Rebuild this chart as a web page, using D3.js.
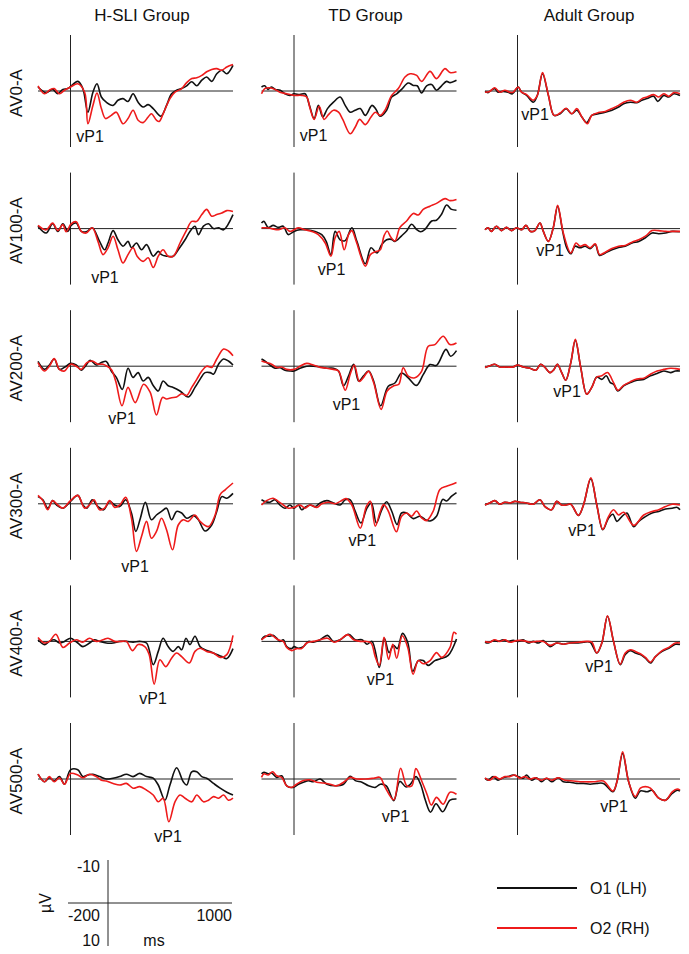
<!DOCTYPE html>
<html>
<head>
<meta charset="utf-8">
<script src="https://cdn.jsdelivr.net/npm/d3@7.9.0/dist/d3.min.js"></script>
<style>
  body { margin: 0; background: #fff; }
  svg { display: block; }
  text { font-family: "Liberation Sans", Arial, sans-serif; fill: #111; }
</style>
</head>
<body>
<svg id="chart" width="689" height="954"></svg>
<script>
const groups = ['H-SLI Group', 'TD Group', 'Adult Group'];
const conditions = ['AV0-A', 'AV100-A', 'AV200-A', 'AV300-A', 'AV400-A', 'AV500-A'];
const channels = ['O1 (LH)', 'O2 (RH)'];
const channelColors = ['#111111', '#ee1b1b'];

// waveforms: [ms, µV] (negative up)
const hsli_av0_o1 = [[-200,-1],[-150,0.4],[-110,-0.4],[-78,0.7],[-47,-0.4],[-16,-0.6],[45,-2.4],[76,-0.6],[107,5.3],[138,0.3],[163,-1.8],[190,1.5],[220,2.8],[262,3.6],[292,2.3],[323,1.9],[354,2.6],[385,0.7],[416,2.8],[447,4],[478,3.4],[509,4.4],[556,6.3],[591,3.6],[622,0.7],[653,-0.2],[684,-0.6],[715,-1.3],[746,-2.3],[777,-1.3],[808,-2.7],[838,-3.5],[869,-2.4],[900,-4.3],[931,-5.2],[962,-4.3],[1000,-6.4]];
const hsli_av0_o2 = [[-200,-1.3],[-160,0.7],[-130,-0.2],[-100,-0.6],[-68,0.7],[-37,-0.2],[0,-1],[45,-1.8],[87,0.3],[107,8.2],[138,3.6],[163,0.5],[190,4.4],[216,6.9],[251,6.1],[282,5.3],[323,8.2],[354,6.9],[385,4.8],[416,7.3],[447,7.9],[478,6.5],[498,5.7],[529,7.3],[546,7.6],[570,5.7],[612,1.9],[643,0.3],[684,-0.6],[715,-2.1],[746,-3.1],[777,-3.3],[808,-3.9],[838,-4.8],[869,-5.4],[900,-5.6],[931,-5.2],[962,-6],[1000,-6.6]];
const hsli_av100_o1 = [[-200,-0.6],[-150,1.1],[-110,-1.2],[-78,0.7],[-47,-1.2],[-16,0.7],[4,-0.8],[35,-1.4],[66,0.7],[101,0.7],[134,-0.2],[179,3.2],[210,5.3],[231,3.6],[262,0.5],[292,2.8],[323,4.4],[354,3.2],[375,4.8],[406,3.6],[437,5.3],[468,4],[509,6.9],[540,5.7],[560,6.5],[591,6.9],[632,6.9],[663,5.3],[705,2.8],[735,0.7],[766,-0.6],[787,1.5],[818,-0.6],[849,-1.2],[880,0],[911,-0.2],[942,0.3],[1000,-3.5]];
const hsli_av100_o2 = [[-200,-0.8],[-150,0.3],[-110,-1.4],[-78,0.5],[-47,-1],[-27,0.8],[4,-1.2],[35,-1.7],[66,0.7],[97,1.1],[134,-0.2],[169,3.2],[200,6.5],[231,4.8],[262,1.9],[292,5.3],[323,8.6],[354,6.5],[385,4.8],[410,6.9],[447,8.2],[478,7.3],[509,9.7],[540,6.9],[570,5.3],[601,6.9],[632,6.9],[674,3.6],[715,0.3],[746,-1.8],[777,-1.8],[808,-3.5],[838,-4.8],[869,-3.1],[900,-3.5],[931,-3.9],[962,-4.5],[1000,-4.3]];
const hsli_av200_o1 = [[-200,-1.2],[-160,0.8],[-130,-0.3],[-100,-1.8],[-68,0.8],[-27,0],[0,-0.7],[35,-0.3],[66,1],[97,-0.3],[121,-1.5],[159,-0.3],[190,-0.9],[220,-1.2],[251,1.2],[282,2.8],[319,5.8],[354,0.5],[385,2.8],[416,1.6],[447,3.7],[478,2.8],[509,4.8],[540,6.2],[570,3.7],[601,4.9],[632,5.3],[674,6.2],[725,7.7],[766,5.3],[797,3.3],[828,1.6],[859,1.6],[880,2],[911,-0.5],[942,-1.8],[972,-1.3],[1000,-0.3]];
const hsli_av200_o2 = [[-200,-0.9],[-160,1.2],[-130,0],[-100,-1.9],[-68,0.8],[-37,1.2],[0,-0.5],[35,0],[66,0.8],[101,-0.9],[134,-1.3],[169,-0.5],[200,-0.5],[225,0],[251,0.8],[278,3.7],[317,9.9],[354,5.3],[398,9.1],[450,4.5],[490,6.5],[529,12.2],[566,7.8],[591,8.2],[622,7.9],[653,7.7],[684,6.9],[715,7.3],[746,5.3],[777,3.3],[808,1.2],[838,0],[869,0.3],[900,-1.8],[942,-4.3],[972,-3.8],[1000,-2.6]];
const hsli_av300_o1 = [[-200,-1.8],[-170,-1],[-140,1.1],[-110,-0.8],[-85,0.3],[-47,1.1],[0,-0.6],[45,-2.1],[76,0.3],[101,1.1],[134,-1],[169,0.7],[204,1.5],[241,-0.6],[272,0.3],[303,0.7],[340,-1],[375,2.3],[402,6.9],[430,3.6],[461,-0.4],[498,4],[529,2.8],[560,1.9],[591,1.1],[622,4],[653,1.9],[684,2.3],[715,3.6],[756,2.9],[787,4],[828,6.8],[869,5.3],[900,1.9],[931,-1.8],[962,-1.4],[1000,-2.6]];
const hsli_av300_o2 = [[-200,-2.1],[-170,-0.8],[-140,1.5],[-110,-0.8],[-78,0.3],[-47,1.1],[0,-0.8],[45,-2.1],[87,1.1],[117,0.3],[144,-1],[179,1.5],[210,1.1],[241,-0.8],[272,0.9],[303,0.3],[340,-1.6],[375,3.6],[406,11.9],[437,8.2],[468,4.4],[498,8.6],[529,6.9],[560,3.6],[591,6.5],[628,11.5],[663,5.3],[694,4],[725,4.4],[766,2.8],[797,4.4],[849,5.7],[890,2.8],[921,-2.3],[952,-3.5],[1000,-5.2]];
const hsli_av400_o1 = [[-200,-0.4],[-160,0.8],[-130,0],[-100,-0.4],[-68,0.4],[-37,0],[0,-0.8],[45,0.4],[76,1.3],[117,0.4],[148,-0.4],[179,0],[220,0.4],[262,0.4],[303,0],[344,0],[385,0.2],[426,0],[468,0.4],[509,5.8],[540,2.5],[570,-0.8],[601,1.3],[632,2.5],[663,1.3],[684,2.1],[711,-0.8],[735,0.8],[766,-1.3],[797,1.3],[828,2.1],[859,2.5],[900,3.3],[931,3.8],[962,4.3],[1000,1.8]];
const hsli_av400_o2 = [[-200,-1],[-160,0.4],[-130,0],[-90,-1.8],[-47,1.5],[-6,0.4],[35,-0.4],[76,0.2],[117,-0.8],[159,0],[200,-0.4],[231,-0.8],[272,0],[313,0],[344,0],[381,2.3],[416,0.8],[457,1.3],[484,3.3],[515,10.7],[550,4.6],[587,6.3],[622,4.2],[653,2.9],[684,3.8],[731,5.4],[766,2.5],[797,1.7],[838,2.5],[880,2.9],[921,4],[962,3.3],[1000,-1.5]];
const hsli_av500_o1 = [[-200,-1.2],[-160,0.7],[-130,-0.3],[-100,0.5],[-68,-0.6],[-37,1.3],[0,-2.3],[45,-2.3],[76,-0.6],[107,-1],[138,-1.2],[179,-0.6],[220,0],[262,-0.2],[303,-0.6],[344,-1.2],[385,-0.6],[426,-1.4],[468,-0.6],[509,-0.2],[540,1.5],[581,5.3],[612,1.5],[653,-2.8],[694,0.7],[715,1.5],[746,-1.8],[777,-1.8],[808,-0.6],[838,-0.2],[880,1.1],[921,2.3],[962,3.3],[1000,4]];
const hsli_av500_o2 = [[-200,-1.2],[-160,0.7],[-130,-0.6],[-100,0.7],[-68,-0.3],[-37,1.3],[0,-1.4],[45,-1],[76,-0.3],[117,-1.2],[159,-0.6],[190,0.3],[220,0.5],[262,1.1],[303,1.5],[344,1.1],[385,2.3],[426,1.9],[468,2.8],[509,4],[540,5.7],[570,4.8],[605,10.7],[643,5.7],[674,4],[705,4.8],[746,5.7],[777,4],[818,5.7],[849,5.3],[880,4.4],[911,4.8],[942,4],[972,5.3],[1000,4.8]];

const td_av0_o1 = [[-200,-1],[-180,-1.3],[-160,-0.4],[-140,-1],[-115,-0.4],[-85,-0.2],[-55,0.7],[-25,1.1],[0,0.7],[35,0.9],[68,0.7],[95,3.6],[124,6.9],[150,3.6],[177,6.5],[206,4.4],[243,2.8],[284,1.5],[315,3.6],[346,5.3],[377,4.8],[408,4.4],[439,6.1],[480,3.6],[505,4.6],[529,6.3],[570,4.8],[601,1.5],[632,0.7],[662,-0.4],[703,-2],[734,-1.4],[758,-1.3],[785,0.5],[816,-1.3],[847,-1.6],[877,-0.2],[908,-1.3],[939,-2.4],[960,-2.1],[1000,-2.7]];
const td_av0_o2 = [[-200,0.7],[-180,-0.6],[-148,-0.8],[-117,-0.4],[-87,0.3],[-45,0.7],[0,1.1],[47,1.1],[78,1.5],[99,4.4],[124,7.1],[155,3.8],[185,7.1],[212,5.9],[243,4.8],[274,5.3],[300,7.1],[346,10.7],[377,9],[404,7.1],[439,8.4],[474,6.5],[500,5.3],[531,6.1],[560,4.8],[601,1.1],[642,-0.6],[683,-3.5],[714,-4.3],[755,-3.9],[785,-2.4],[837,-4.9],[877,-3.1],[929,-5.6],[960,-4.6],[1000,-4.8]];
const td_av100_o1 = [[-200,-1.4],[-185,-1.8],[-159,-0.3],[-128,-0.8],[-97,-0.3],[-66,-0.6],[-35,1.5],[0,0.7],[37,0.3],[78,0.3],[130,0.7],[171,1.5],[198,3.2],[227,6.5],[253,0.7],[284,2.8],[315,3],[356,-0.2],[387,3.2],[439,8.8],[474,4.8],[511,6.1],[540,4],[570,2.8],[600,2.7],[621,3.2],[662,1.8],[693,0.6],[724,-1.1],[754,0.2],[779,0.8],[806,0.2],[847,-1.9],[877,-2.1],[908,-3.6],[939,-5.9],[970,-4.8],[1000,-4.6]];
const td_av100_o2 = [[-200,-0.2],[-169,-0.2],[-138,0],[-97,0.3],[-56,-0.2],[-25,0.7],[0,0.3],[27,-0.2],[68,0.3],[109,0.7],[150,1.5],[192,3.6],[227,6.9],[253,2.3],[278,0.7],[309,5.3],[336,1.5],[356,0.5],[383,3.2],[439,9.4],[470,6.5],[500,5.8],[531,5.3],[554,1.8],[574,0.6],[595,2.1],[621,3.1],[652,-0.3],[693,-1.9],[734,-3.8],[765,-3.4],[795,-4.8],[837,-5.6],[877,-6.3],[929,-7.5],[960,-7],[1000,-7.3]];
const td_av200_o1 = [[-200,-1.8],[-180,-1.3],[-148,-0.3],[-117,0.5],[-87,0.4],[-56,1],[-25,1.2],[0,1.2],[37,0.5],[78,0],[119,0],[161,0.2],[202,0.5],[243,0.5],[274,1.2],[305,4.9],[336,2.4],[367,-0.5],[398,3.7],[428,2.4],[459,1.2],[490,3.7],[533,9.9],[580,5],[621,4.2],[662,1.7],[703,2.9],[754,4.8],[795,2.1],[837,-0.4],[877,-0.2],[935,-4.2],[964,-2.5],[1000,-3.9]];
const td_av200_o2 = [[-200,-1.3],[-169,-0.9],[-138,-0.5],[-107,0.3],[-76,0.2],[-45,0.8],[0,0.8],[37,0],[78,-0.7],[119,-0.3],[161,0.3],[202,0.5],[243,0.8],[274,1.2],[315,6],[346,2],[371,-0.3],[402,3.8],[424,3],[459,1.3],[490,4.1],[536,10.8],[573,6.2],[614,4.9],[645,4.5],[672,0.4],[703,2.5],[744,2.9],[785,1.3],[826,-5],[867,-5.4],[918,-7.5],[960,-5.4],[1000,-5.8]];
const td_av300_o1 = [[-200,-1],[-180,-0.6],[-148,-0.4],[-117,-1],[-87,0.3],[-56,1.1],[-25,0.3],[0,1.1],[27,0.3],[47,1.5],[74,0.7],[99,0.3],[130,0.7],[161,-0.2],[202,-0.8],[243,-0.2],[284,0.3],[315,-1],[346,-1],[377,1.9],[412,4.8],[449,1.1],[476,-0.2],[507,4.8],[540,1.5],[570,-0.5],[601,1.8],[634,5.2],[662,2.3],[693,2.3],[734,3.7],[775,3.1],[806,3.9],[837,4.3],[877,3.1],[915,-1.1],[939,-0.7],[970,-1.9],[1000,-2.8]];
const td_av300_o2 = [[-200,0.3],[-169,-0.8],[-128,-1.4],[-97,-0.6],[-66,0.3],[-35,1.1],[0,0.9],[37,0.3],[68,1.1],[99,0.3],[140,0.9],[171,0],[212,-0.4],[253,0],[284,-0.6],[321,-1.3],[356,0.3],[408,6.1],[445,0.7],[470,-0.6],[500,5.6],[531,1.9],[552,0.2],[580,1.8],[630,7],[662,3.1],[693,2.3],[724,3.1],[754,1.8],[785,3.5],[816,4.2],[857,1.8],[898,-3.6],[939,-4.4],[970,-4.8],[1000,-5.3]];
const td_av400_o1 = [[-200,-0.4],[-180,-1.3],[-148,-1.3],[-128,-1.5],[-107,-0.8],[-87,0],[-66,-0.4],[-45,1.3],[-14,1.8],[0,1.3],[27,1.7],[58,1.3],[89,0],[119,0.2],[161,-0.4],[206,-1.5],[243,0],[284,-0.4],[336,-1.8],[377,-0.4],[418,-0.4],[449,0.7],[480,0],[525,6.5],[556,-0.8],[585,2.8],[612,1],[636,1.8],[668,-2],[700,0.3],[731,7.5],[765,4.8],[795,4.8],[826,6],[867,4.8],[898,4.4],[949,3.5],[1000,-0.6]];
const td_av400_o2 = [[-200,-0.4],[-180,-1],[-148,-1.8],[-128,-1.3],[-97,-0.4],[-66,0],[-45,1.5],[-14,2.3],[16,1.8],[47,1.8],[78,0.4],[119,0],[161,-0.4],[206,-0.8],[247,0.2],[284,-0.4],[330,-1.7],[367,-0.4],[408,0],[439,0],[474,0.4],[500,3.8],[525,6],[554,-1],[582,4.5],[608,0.7],[632,4.2],[666,-1.4],[700,1.5],[733,8.2],[765,4.8],[795,5.6],[837,4.8],[877,2.8],[908,4],[960,1.5],[984,-2.3],[1000,-1.8]];
const td_av500_o1 = [[-200,-1.3],[-185,-1.7],[-159,-1.3],[-138,-1.5],[-107,-0.4],[-76,-0.8],[-45,1.7],[-4,2.1],[27,1.3],[58,0.8],[89,0.4],[119,0.7],[161,0],[202,1.3],[253,1.7],[305,1.3],[346,-0.7],[377,0.4],[418,0.8],[459,1.7],[500,2.1],[531,1.3],[568,1.7],[614,5.4],[651,0.6],[690,2],[717,1.3],[751,-0.6],[779,1.3],[809,5.4],[840,8.3],[874,6.2],[915,8.2],[960,5.3],[1000,5]];
const td_av500_o2 = [[-200,-0.4],[-185,-1.3],[-159,-1],[-132,-1.8],[-107,-0.8],[-76,-0.4],[-45,1.7],[-14,2.1],[16,1.3],[58,0.4],[99,0.2],[140,0.8],[181,1],[222,1.3],[264,1.7],[305,0.8],[346,-0.4],[387,0],[439,0],[490,-0.2],[529,-0.4],[560,2],[614,5.2],[656,-2.7],[694,1.7],[725,1.7],[750,-2.6],[789,0.8],[820,4],[845,6.5],[877,4.6],[918,6.3],[960,3.3],[1000,3.8]];

const adult_av0_o1 = [[-200,0.1],[-181,0.4],[-161,-0.2],[-140,-0.6],[-120,0.3],[-89,0.1],[-58,0.3],[-31,0.7],[4,-1],[25,0.3],[56,1.1],[97,2.8],[122,1.1],[154,-4.3],[190,1.1],[225,6.1],[262,5.7],[299,4.4],[334,5.7],[365,4.8],[396,6.5],[426,7.9],[457,6.1],[498,5.7],[540,5.3],[581,4.8],[622,4],[653,3.2],[694,2.8],[735,2.9],[766,2.3],[797,1.9],[838,1.3],[863,2.6],[900,1.1],[931,1.5],[962,0.7],[1000,1.1]];
const adult_av0_o2 = [[-200,0.3],[-171,0.1],[-140,-0.8],[-109,0.3],[-78,-0.2],[-47,0.3],[-27,0.3],[4,-1],[25,0.3],[56,0.9],[97,2.3],[122,1.1],[154,-4.6],[190,1],[225,6.1],[262,5.5],[299,4.3],[334,5.7],[365,4.4],[396,6.5],[430,8.2],[457,6.1],[498,5.4],[540,5.1],[581,4.4],[622,3.6],[653,2.8],[694,2.3],[735,2.8],[766,1.9],[797,1.5],[838,0.9],[869,1.5],[900,0.7],[931,1.3],[962,0.4],[1000,0.7]];
const adult_av100_o1 = [[-200,0.3],[-181,-0.2],[-161,0.7],[-130,-0.6],[-99,0.5],[-68,-0.3],[-37,0.5],[-6,-0.2],[25,0.3],[52,-0.8],[80,0.7],[107,0.5],[138,-1.4],[159,0.7],[190,3.2],[220,-0.2],[247,-5.6],[278,0.7],[303,4.8],[328,6.3],[354,4.4],[385,4.8],[416,4.4],[447,5],[478,4],[505,6.7],[540,6.1],[581,5.3],[622,4.7],[663,4.4],[705,3.6],[746,3.2],[787,2.3],[828,1.1],[869,1.3],[911,1.1],[952,0.7],[1000,0.8]];
const adult_av100_o2 = [[-200,0.3],[-181,-0.2],[-161,0.7],[-130,-0.6],[-99,0.5],[-68,-0.3],[-37,0.5],[-6,-0.2],[25,0.3],[52,-0.8],[80,0.7],[107,0.5],[138,-1.4],[159,0.7],[190,3.2],[220,-0.2],[247,-5.8],[282,1.1],[328,6.1],[360,3.6],[385,4.4],[416,4],[447,4.8],[478,3.8],[505,6.5],[540,5.9],[581,5],[622,4.4],[663,4.2],[705,3.4],[746,2.8],[787,1.9],[828,0.5],[869,0.5],[911,0.7],[952,0.7],[1000,0.7]];
const adult_av200_o1 = [[-200,0.3],[-171,-0.1],[-140,-0.5],[-109,0.2],[-68,0.2],[-27,0.2],[0,-0.3],[35,0.2],[76,0.5],[113,1],[142,-0.5],[169,0.3],[200,1.6],[225,0.8],[245,-0.5],[272,1.6],[297,3.5],[328,-0.9],[356,-6.5],[389,0.3],[426,7],[457,5.3],[488,2.7],[519,3.3],[546,2.4],[571,4.1],[591,4.5],[618,6.2],[653,4.9],[694,4.1],[735,3.5],[777,3.3],[818,2.4],[859,1.8],[900,1.2],[942,1.6],[972,1.2],[1000,1.2]];
const adult_av200_o2 = [[-200,0.3],[-171,-0.1],[-140,-0.5],[-109,0.2],[-68,0.2],[-27,0.2],[0,-0.3],[35,0.2],[76,0.5],[113,1],[142,-0.5],[169,0.3],[200,1.6],[225,0.8],[245,-0.5],[272,1.6],[297,3.5],[328,-0.9],[356,-6.7],[389,0.3],[426,7],[457,5.3],[488,2.7],[519,2.4],[554,1.6],[591,4.1],[618,6],[653,4.8],[694,3.9],[735,3.2],[777,3],[818,2],[859,1.2],[900,0.8],[942,0.5],[972,0.6],[1000,0.8]];
const adult_av300_o1 = [[-200,0.3],[-171,-0.2],[-140,-0.8],[-109,0.1],[-78,-0.4],[-47,-0.2],[-16,-0.6],[14,-0.4],[56,-0.2],[97,0.1],[138,-1],[169,0.7],[210,1.5],[241,-0.6],[272,0.3],[299,0.3],[328,0.1],[375,2.9],[406,0.3],[451,-6.3],[488,0.3],[525,6.5],[560,3.6],[587,2.6],[612,4.4],[642,3.2],[673,2.3],[715,5.7],[746,4.4],[787,3.2],[828,2.3],[869,1.9],[911,1.3],[952,1.1],[983,0.9],[1000,1.5]];
const adult_av300_o2 = [[-200,0.3],[-171,-0.2],[-140,-0.8],[-109,0.1],[-78,-0.4],[-47,-0.2],[-16,-0.6],[14,-0.4],[56,-0.2],[97,0.1],[138,-1],[169,0.7],[210,1.5],[241,-0.6],[272,0.3],[299,0.3],[328,0.1],[375,2.9],[406,0.3],[451,-6.5],[488,0.3],[525,6.4],[560,3.2],[591,1.5],[622,2.8],[653,2.1],[715,5.4],[777,2.8],[828,1.9],[869,1.5],[911,0.7],[952,0.1],[1000,0.3]];
const adult_av400_o1 = [[-200,0.2],[-181,0.4],[-150,-0.2],[-120,0],[-89,-0.4],[-58,0],[-27,-0.3],[4,0],[35,-0.4],[66,0.4],[97,0],[128,0.4],[159,-0.2],[200,1.3],[241,0.4],[282,0.7],[323,0.4],[365,0.4],[406,0.2],[447,0.2],[488,2.9],[519,0.4],[554,-6.3],[591,0],[632,5.8],[663,3.3],[694,2.3],[725,2.9],[756,3.3],[787,4.2],[818,5.4],[849,3.8],[890,2.5],[931,1.7],[972,0.7],[1000,0.8]];
const adult_av400_o2 = [[-200,0],[-171,0.2],[-140,-0.4],[-109,0],[-78,-0.4],[-47,0.2],[-6,-0.2],[35,-0.2],[76,0.2],[117,0],[159,0],[200,1],[241,0.4],[282,0.7],[323,0.4],[375,0.2],[426,0],[457,0.2],[488,2.9],[519,0.4],[554,-6.4],[591,0],[632,5.7],[663,2.9],[694,2.1],[725,2.5],[756,3.1],[787,4],[818,5.2],[849,3.8],[890,2.3],[931,1.5],[972,0.4],[1000,0.4]];
const adult_av500_o1 = [[-200,-0.2],[-181,0.3],[-150,-0.6],[-120,0.3],[-89,-0.3],[-58,-0.6],[-27,-1],[4,-0.6],[35,-0.2],[56,-1],[87,0.3],[117,-0.3],[148,0.7],[179,-0.2],[210,0.7],[251,-0.3],[282,0.7],[323,0.8],[365,1.1],[406,1.1],[447,1.3],[488,1.1],[529,1.1],[587,3.2],[612,0.7],[647,-6.4],[684,0.7],[725,4.8],[756,3],[797,3.2],[828,2.8],[869,4.8],[911,5.3],[952,3.6],[983,2.8],[1000,3]];
const adult_av500_o2 = [[-200,-0.3],[-171,0.3],[-140,-0.6],[-109,0],[-78,-0.6],[-47,-0.6],[-16,-1],[14,-0.2],[45,-0.6],[76,0],[107,-0.3],[148,0.3],[179,-0.2],[210,0.3],[251,-0.3],[292,0.3],[344,0.5],[406,0.7],[468,0.7],[529,0.5],[587,3],[612,0.7],[647,-6.8],[684,0.7],[725,4.4],[756,2.3],[787,1.9],[818,2.3],[869,4.8],[911,5.3],[952,3.2],[983,2.5],[1000,2.8]];

// vP1 label anchor per panel (ms, µV), rows x groups
const vp1Time = [[120,120,108],[212,231,200],[317,323,305],[397,421,397],[508,532,502],[600,625,594]];
const vp1Depth = [[12.75,12.5,7.25],[13.5,11.5,6.75],[14.5,11,7.75],[17,10.5,8],[15.75,11,7.75],[15.75,10.75,8.25]];

// scale bar ticks
const barTimes = [-200, 0, 1000];
const barVolts = [-10, 10];

const o1 = [
  [hsli_av0_o1, td_av0_o1, adult_av0_o1],
  [hsli_av100_o1, td_av100_o1, adult_av100_o1],
  [hsli_av200_o1, td_av200_o1, adult_av200_o1],
  [hsli_av300_o1, td_av300_o1, adult_av300_o1],
  [hsli_av400_o1, td_av400_o1, adult_av400_o1],
  [hsli_av500_o1, td_av500_o1, adult_av500_o1]
];
const o2 = [
  [hsli_av0_o2, td_av0_o2, adult_av0_o2],
  [hsli_av100_o2, td_av100_o2, adult_av100_o2],
  [hsli_av200_o2, td_av200_o2, adult_av200_o2],
  [hsli_av300_o2, td_av300_o2, adult_av300_o2],
  [hsli_av400_o2, td_av400_o2, adult_av400_o2],
  [hsli_av500_o2, td_av500_o2, adult_av500_o2]
];

const svg = d3.select('#chart');

const colX = d3.scalePoint().domain(groups).range([38, 485]);
const rowY = d3.scalePoint().domain(conditions).range([91, 779]);
const x = d3.scaleLinear().domain([-200, 1000]).range([0, 195]);
const y = d3.scaleLinear().domain([-14, 14]).range([-56, 56]);

const line = d3.line()
  .x(d => x(d[0]))
  .y(d => y(d[1]))
  .curve(d3.curveCatmullRom.alpha(0.5));

// column titles
svg.selectAll('.title')
  .data(groups)
  .join('text')
  .attr('class', 'title')
  .attr('x', g => colX(g) + 104)
  .attr('y', 21)
  .attr('text-anchor', 'middle')
  .attr('font-size', 17)
  .text(g => g);

// row labels
svg.selectAll('.rowlab')
  .data(conditions)
  .join('text')
  .attr('class', 'rowlab')
  .attr('transform', c => `translate(22,${rowY(c) + 2}) rotate(-90)`)
  .attr('text-anchor', 'middle')
  .attr('font-size', 17)
  .text(c => c);

conditions.forEach((c, ri) => {
  groups.forEach((g, ci) => {
    const p = svg.append('g')
      .attr('transform', `translate(${colX(g)},${rowY(c)})`);

    // baseline and onset line
    p.append('line')
      .attr('x1', x(-200)).attr('x2', x(1000))
      .attr('y1', y(0)).attr('y2', y(0))
      .attr('stroke', '#222').attr('stroke-width', 1);
    p.append('line')
      .attr('x1', x(0)).attr('x2', x(0))
      .attr('y1', y(-14)).attr('y2', y(14))
      .attr('stroke', '#222').attr('stroke-width', 1);

    [o1[ri][ci], o2[ri][ci]].forEach((wave, k) => {
      p.append('path')
        .attr('d', line(wave))
        .attr('fill', 'none')
        .attr('stroke', channelColors[k])
        .attr('stroke-width', 1.6)
        .attr('stroke-linejoin', 'round');
    });

    p.append('text')
      .attr('x', x(vp1Time[ri][ci]))
      .attr('y', y(vp1Depth[ri][ci]))
      .attr('text-anchor', 'middle')
      .attr('font-size', 16)
      .text('vP1');
  });
});

// scale bar
const bx = d3.scaleLinear().domain([-200, 0, 1000]).range([68, 108, 232]);
const by = d3.scaleLinear().domain([-10, 10]).range([860, 946]);
const bar = svg.append('g');
bar.append('line')
  .attr('x1', bx(-200)).attr('x2', bx(1000))
  .attr('y1', by(0)).attr('y2', by(0))
  .attr('stroke', '#222');
bar.append('line')
  .attr('x1', bx(0)).attr('x2', bx(0))
  .attr('y1', by(-10)).attr('y2', by(10))
  .attr('stroke', '#222');
bar.selectAll('.vt')
  .data(barVolts)
  .join('text')
  .attr('x', bx(0) - 8)
  .attr('y', v => by(v) + (v < 0 ? 12 : 0))
  .attr('text-anchor', 'end')
  .attr('font-size', 16)
  .text(v => v);
bar.selectAll('.tt')
  .data(barTimes.filter(t => t !== 0))
  .join('text')
  .attr('x', t => t < 0 ? bx(0) - 8 : bx(1000))
  .attr('y', by(0) + 18)
  .attr('text-anchor', 'end')
  .attr('font-size', 16)
  .text(t => t);
bar.append('text')
  .attr('x', bx(0) + 46).attr('y', by(10))
  .attr('text-anchor', 'middle')
  .attr('font-size', 16)
  .text('ms');
bar.append('text')
  .attr('transform', `translate(51,${by(0)}) rotate(-90)`)
  .attr('text-anchor', 'middle')
  .attr('font-size', 16)
  .text('µV');

// legend
const leg = svg.append('g');
const legY = d3.scalePoint().domain(channels).range([888, 928]);
channels.forEach((ch, k) => {
  leg.append('line')
    .attr('x1', 497).attr('x2', 577)
    .attr('y1', legY(ch)).attr('y2', legY(ch))
    .attr('stroke', channelColors[k]).attr('stroke-width', 2);
  leg.append('text')
    .attr('x', 590).attr('y', legY(ch) + 6)
    .attr('font-size', 16)
    .text(ch);
});
</script>
</body>
</html>
